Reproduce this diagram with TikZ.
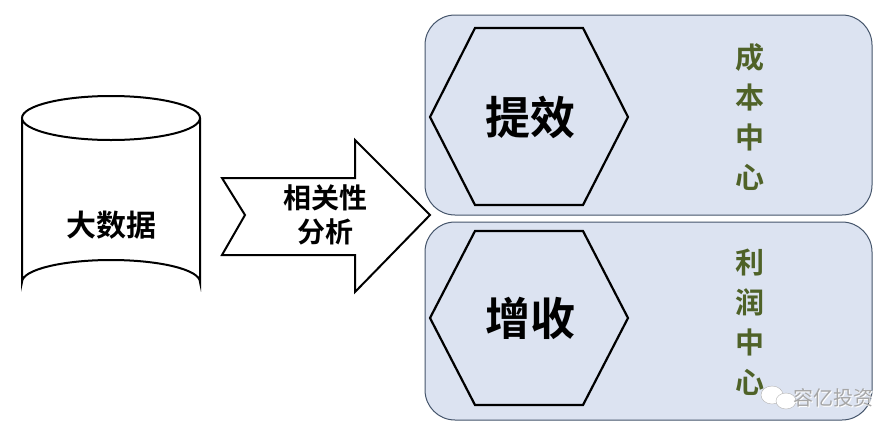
\documentclass[tikz,border=0pt]{standalone}
\usepackage{fontspec}
\newfontfamily\cjk{Noto Sans CJK SC}
\newfontfamily\cjkb{Noto Sans CJK SC Bold}
\definecolor{boxfill}{HTML}{DCE3F1}
\definecolor{boxline}{HTML}{44546A}
\definecolor{dgreen}{HTML}{4F6228}
\begin{document}
\begin{tikzpicture}[x=1pt,y=-1pt,
  box/.style={draw=boxline,line width=1pt,fill=boxfill,rounded corners=30pt},
  hex/.style={draw=black,line width=2.2pt},
  big/.style={font=\cjkb\fontsize{45}{45}\selectfont},
  vert/.style={font=\cjkb\fontsize{29}{40}\selectfont,text=dgreen,align=center},
  lbl/.style={font=\cjkb\fontsize{30}{36}\selectfont,align=center},
  lbl2/.style={font=\cjkb\fontsize{28}{34}\selectfont,align=center}]
\useasboundingbox (0,0) rectangle (890,437);
% cylinder
\draw[line width=2pt,fill=white] (22,118) -- (22,282) arc[start angle=180,end angle=360,x radius=89,y radius=22] -- (200,118);
\draw[line width=2pt,fill=white] (111,118) ellipse[x radius=89,y radius=22];
\node[lbl] (db) at (111,225) {大数据};
% arrow
\draw[line width=2pt,fill=white] (222,178) -- (355,178) -- (355,140) -- (430,215) -- (355,292) -- (355,255) -- (222,255) -- (245,215) -- cycle;
\node[lbl2] (ar) at (325,215) {相关性\\分析};
% boxes
\draw[box] (425,15) rectangle (872,215);
\draw[box] (425,222) rectangle (872,420);
\draw[hex] (430,117) -- (475,28) -- (583,28) -- (628,117) -- (583,205) -- (475,205) -- cycle;
\draw[hex] (430,318) -- (475,231) -- (583,231) -- (628,318) -- (583,405) -- (475,405) -- cycle;
\node[big] (t1) at (530,117) {提效};
\node[big] (t2) at (530,318) {增收};
\node[vert] (c1) at (750,117) {成\\本\\中\\心};
\node[vert] (c2) at (750,322) {利\\润\\中\\心};
% watermark
\fill[white,draw=gray!60] (772,395) ellipse[x radius=11,y radius=9];
\fill[white,draw=gray!60] (786,401) ellipse[x radius=10,y radius=8];
\node[font=\cjk\fontsize{20}{20}\selectfont,text=white] (wm) at (834,399) {容亿投资};
\node[font=\cjk\fontsize{20}{20}\selectfont,text=gray!70] at (833,398) {容亿投资};
\end{tikzpicture}
\end{document}
